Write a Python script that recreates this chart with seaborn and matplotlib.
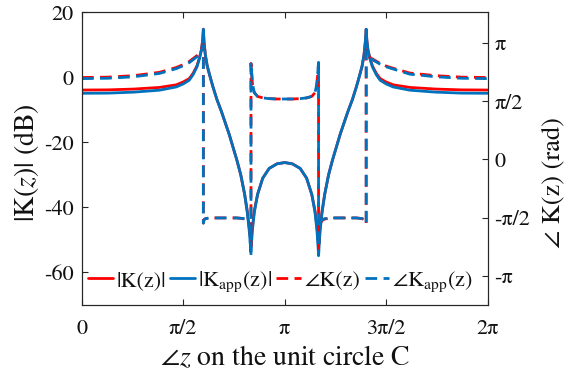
import numpy as np
import pandas as pd
import matplotlib
matplotlib.use("Agg")
import matplotlib.pyplot as plt
import seaborn as sns

# ---------------- data ----------------
theta = [0.00, 0.40, 0.80, 1.20, 1.46, 1.57, 1.66, 1.72, 1.78, 1.82, 1.85, 1.87, 1.88,
         1.88, 1.89, 1.91, 1.94, 1.98, 2.03, 2.09, 2.16, 2.22, 2.28, 2.34, 2.40, 2.46, 2.52, 2.56, 2.59, 2.618,
         2.618, 2.64, 2.67, 2.72, 2.80, 2.90, 3.02, 3.1416, 3.26, 3.38, 3.48, 3.56, 3.61, 3.64, 3.665,
         3.665, 3.69, 3.72, 3.76, 3.82, 3.88, 3.94, 4.00, 4.06, 4.12, 4.19, 4.25, 4.30, 4.34, 4.37, 4.39, 4.403,
         4.403, 4.413, 4.43, 4.46, 4.50, 4.56, 4.62, 4.71, 4.82, 5.08, 5.48, 5.88, 6.2832]

mag_K = [-3.9, -3.85, -3.6, -3.1, -2.3, -1.4, -0.4, 1.2, 3.5, 6.0, 8.5, 11.5, 14.8,
         14.8, 11.0, 7.0, 3.5, 0.5, -3.0, -6.8, -10.5, -14.0, -17.5, -21.5, -25.5, -30.0, -36.0, -41.0, -46.0, -51.0,
         -51.0, -46.0, -41.0, -36.0, -31.0, -28.0, -26.6, -26.2, -26.6, -28.0, -31.0, -36.0, -41.0, -46.0, -52.0,
         -52.0, -46.0, -41.0, -36.0, -30.0, -25.5, -21.5, -17.5, -14.0, -10.5, -6.8, -3.0, 0.5, 3.5, 7.0, 11.0, 14.8,
         14.8, 11.5, 8.5, 6.0, 3.5, 1.2, -0.4, -1.4, -2.3, -3.1, -3.6, -3.85, -3.9]

mag_app = [-4.9, -4.85, -4.55, -3.95, -2.95, -2.0, -0.9, 0.8, 3.2, 5.8, 8.4, 11.4, 14.8,
           14.8, 11.0, 7.0, 3.5, 0.5, -3.0, -6.8, -10.5, -14.0, -17.5, -21.5, -25.5, -30.0, -36.0, -41.5, -47.0, -53.5,
           -53.5, -47.0, -41.5, -36.0, -31.0, -28.0, -26.6, -26.2, -26.6, -28.0, -31.0, -36.0, -41.5, -47.0, -54.5,
           -54.5, -47.0, -41.5, -36.0, -30.0, -25.5, -21.5, -17.5, -14.0, -10.5, -6.8, -3.0, 0.5, 3.5, 7.0, 11.0, 14.8,
           14.8, 11.4, 8.4, 5.8, 3.2, 0.8, -0.9, -2.0, -2.95, -3.95, -4.55, -4.85, -4.9]

phase_K = [2.21, 2.22, 2.26, 2.35, 2.48, 2.56, 2.64, 2.72, 2.80, 2.90, 2.98, 3.05, 3.10,
           -1.72, -1.63, -1.60, -1.59, -1.59, -1.58, -1.58, -1.58, -1.58, -1.58, -1.58, -1.58, -1.59, -1.61, -1.65, -1.73, -2.35,
           2.59, 2.05, 1.80, 1.70, 1.66, 1.64, 1.63, 1.63, 1.63, 1.64, 1.66, 1.70, 1.80, 2.05, 2.59,
           -2.45, -1.73, -1.65, -1.61, -1.59, -1.58, -1.58, -1.58, -1.58, -1.58, -1.58, -1.58, -1.59, -1.60, -1.62, -1.66, -1.74,
           2.95, 2.86, 2.80, 2.75, 2.71, 2.65, 2.59, 2.52, 2.46, 2.33, 2.26, 2.22, 2.21]

phase_app = [2.18, 2.19, 2.23, 2.32, 2.45, 2.53, 2.61, 2.69, 2.77, 2.87, 2.95, 3.02, 3.08,
             -1.72, -1.63, -1.60, -1.59, -1.59, -1.58, -1.58, -1.58, -1.58, -1.58, -1.58, -1.58, -1.59, -1.60, -1.63, -1.70, -2.63,
             2.62, 2.05, 1.80, 1.70, 1.66, 1.64, 1.63, 1.63, 1.63, 1.64, 1.66, 1.70, 1.80, 2.05, 2.62,
             -2.60, -1.70, -1.63, -1.60, -1.59, -1.58, -1.58, -1.58, -1.58, -1.58, -1.58, -1.58, -1.59, -1.60, -1.62, -1.66, -1.72,
             2.93, 2.84, 2.78, 2.73, 2.69, 2.63, 2.57, 2.50, 2.44, 2.30, 2.23, 2.19, 2.18]

x_ticks = [0, np.pi / 2, np.pi, 3 * np.pi / 2, 2 * np.pi]
x_ticklabels = ["0", "π/2", "π", "3π/2", "2π"]
left_ticks = [-60, -40, -20, 0, 20]
right_ticks = [-np.pi, -np.pi / 2, 0, np.pi / 2, np.pi]
right_ticklabels = ["-π", "-π/2", "0", "π/2", "π"]

legend_labels = ["|K(z)|", r"|K$_{\rm app}$(z)|", "∠K(z)", r"∠K$_{\rm app}$(z)"]

df = pd.DataFrame({"theta": theta, "magK": mag_K, "magA": mag_app,
                   "phK": phase_K, "phA": phase_app})

# ---------------- style ----------------
sns.set_theme(style="ticks")
plt.rcParams["font.family"] = ["STIXGeneral", "DejaVu Serif"]
plt.rcParams["mathtext.fontset"] = "stix"

RED = "#FF0000"
BLUE = "#0072BD"
AXC = "#262626"
LW = 2.0
DASH = (4.2, 2.3)

fig = plt.figure(figsize=(5.7, 3.81), dpi=100)
ax = fig.add_axes([0.1439, 0.1995, 0.7114, 0.7682])
ax2 = ax.twinx()

sns.lineplot(data=df, x="theta", y="magK", ax=ax, color=RED, lw=LW,
             estimator=None, sort=False, legend=False)
sns.lineplot(data=df, x="theta", y="magA", ax=ax, color=BLUE, lw=LW,
             estimator=None, sort=False, legend=False)
sns.lineplot(data=df, x="theta", y="phK", ax=ax2, color=RED, lw=LW,
             estimator=None, sort=False, legend=False, dashes=False)
sns.lineplot(data=df, x="theta", y="phA", ax=ax2, color=BLUE, lw=LW,
             estimator=None, sort=False, legend=False, dashes=False)
for ln in ax2.get_lines():
    ln.set_dashes(DASH)

ax.set_xlim(0, 2 * np.pi)
ax.set_ylim(-70, 20)
ax2.set_ylim(-3.93, 3.97)

ax.set_xticks(x_ticks)
ax.set_xticklabels(x_ticklabels)
ax.set_yticks(left_ticks)
ax.set_yticklabels([str(v) for v in left_ticks])
ax2.set_yticks(right_ticks)
ax2.set_yticklabels(right_ticklabels)

for a in (ax, ax2):
    for s in a.spines.values():
        s.set_visible(True)
        s.set_color(AXC)
        s.set_linewidth(0.8)
ax.tick_params(axis="both", direction="in", length=4, width=0.8, colors=AXC,
               labelsize=16, labelcolor="#111111", top=True, pad=6)
ax.tick_params(axis="x", pad=10)
ax2.tick_params(axis="y", direction="in", length=4, width=0.8, colors=AXC,
                labelsize=16, labelcolor="#111111", pad=5)

ax.set_xlabel(r"∠$z$ on the unit circle C", fontsize=20, color="#111111")
ax.set_ylabel(r"|K($z$)| (dB)", fontsize=20, color="#111111")
ax2.set_ylabel("∠ K(z) (rad)", fontsize=19, color="#111111")
ax.xaxis.set_label_coords(0.5, -0.18)
ax.xaxis.label.set_va("center")
ax.yaxis.set_label_coords(-0.138, 0.485)
ax.yaxis.label.set_va("center")
ax2.yaxis.set_label_coords(1.163, 0.42)
ax2.yaxis.label.set_va("center")

handles = ax.get_lines()[:2] + ax2.get_lines()[:2]
leg = ax2.legend(handles, legend_labels, loc="center", bbox_to_anchor=(0.49, 0.08),
                 ncol=4, frameon=False, fontsize=16, handlelength=1.1,
                 handletextpad=0.15, columnspacing=0.2, borderaxespad=0,
                 borderpad=0)
for t in leg.get_texts():
    t.set_color("#111111")

fig.savefig("out.png", dpi=100)
